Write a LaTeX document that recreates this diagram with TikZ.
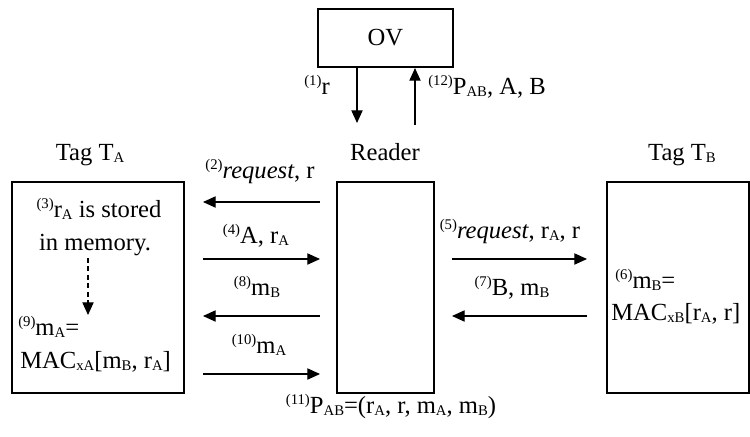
\documentclass[tikz,border=0pt]{standalone}
\usepackage{fontspec}
\setmainfont{Liberation Serif}
\usetikzlibrary{arrows.meta,positioning}
\newcommand{\lo}[1]{\raisebox{-2pt}{\fontsize{10.5}{11}\selectfont #1}}
\newcommand{\hi}[1]{\raisebox{6pt}{\fontsize{10.5}{11}\selectfont #1}}

\begin{document}
\begin{tikzpicture}[x=0.025cm, y=-0.025cm, every node/.style={font=\fontsize{17.5}{21}\selectfont}]
		% Styles
		\tikzset{
			entity/.style={draw=black, line width=1.5pt, inner sep=0pt},
			msg/.style={line width=0.8pt, -{Triangle[length=9pt, width=8pt]}},
			lbl/.style={anchor=base, inner sep=0pt},
		}
		\useasboundingbox (0,0) rectangle (750,436);
		
		% ===== BOXES =====
		\node[entity, minimum width=3.375cm, minimum height=1.45cm] (ov) at (385.5,38) {OV};
		\node[entity, minimum width=2.425cm, minimum height=5.275cm] (reader) at (385.5,287.5) {};
		\node[entity, minimum width=4.3cm, minimum height=5.275cm] (tagA) at (98,287.5) {};
		\node[entity, minimum width=3.55cm, minimum height=5.275cm] (tagB) at (678,287.5) {};
		
		% Titles
		\node[lbl] (tagAname) at (90,160) {Tag T\lo{A}};
		\node[lbl] (readername) at (385,160) {Reader};
		\node[lbl] (tagBname) at (682,160) {Tag T\lo{B}};
		
		% ===== OV <-> READER =====
		\coordinate (ovin) at (357,123);
		\coordinate (ovout) at (415,125);
		\draw[msg] (ov.south -| ovin) -- (ovin);
		\draw[msg] (ovout) -- (ovout |- ov.south);
		\node[lbl, anchor=base east] (m1) at (330,94) {\hi{(1)}r};
		\node[lbl, anchor=base west] (m12) at (428,94) {\hi{(12)}P\lo{AB}, A, B};
		
		% ===== TAG A <-> READER =====
		\coordinate (ra2) at (320,202);
		\coordinate (ta2) at (203,202);
		\coordinate (ta4) at (203,259);
		\coordinate (ra4) at (320,259);
		\coordinate (ra8) at (320,316);
		\coordinate (ta8) at (203,316);
		\coordinate (ta10) at (203,374);
		\coordinate (ra10) at (320,374);
		\draw[msg] (ra2) -- (ta2);
		\draw[msg] (ta4) -- (ra4);
		\draw[msg] (ra8) -- (ta8);
		\draw[msg] (ta10) -- (ra10);
		\node[lbl] (m2) at (260,178) {\hi{(2)}\textit{request}, r};
		\node[lbl] (m4) at (256,243) {\hi{(4)}A, r\lo{A}};
		\node[lbl] (m8) at (257,295) {\hi{(8)}m\lo{B}};
		\node[lbl] (m10) at (259,353) {\hi{(10)}m\lo{A}};
		
		% Inside tag A
		\node[lbl] (m3a) at (99,217) {\hi{(3)}r\lo{A} is stored};
		\node[lbl] (m3b) at (95,250) {in memory.};
		\coordinate (dtop) at (88,258);
		\coordinate (dbot) at (88,315);
		\draw[msg, dash pattern=on 3.5pt off 2.5pt] (dtop) -- (dbot);
		\node[lbl, anchor=base west] (m9a) at (18,335) {\hi{(9)}m\lo{A}=};
		\node[lbl, anchor=base west] (m9b) at (20,368) {MAC\lo{xA}[m\lo{B}, r\lo{A}]};
		
		% ===== READER <-> TAG B =====
		\coordinate (rb5) at (452,259);
		\coordinate (tb5) at (587,259);
		\coordinate (tb7) at (587,316);
		\coordinate (rb7) at (452,316);
		\draw[msg] (rb5) -- (tb5);
		\draw[msg] (tb7) -- (rb7);
		\node[lbl] (m5) at (510,238) {\hi{(5)}\textit{request}, r\lo{A}, r};
		\node[lbl] (m7) at (512,295) {\hi{(7)}B, m\lo{B}};
		
		% Inside tag B
		\node[lbl, anchor=base west] (m6a) at (615,288) {\hi{(6)}m\lo{B}=};
		\node[lbl, anchor=base west] (m6b) at (611,320) {MAC\lo{xB}[r\lo{A}, r]};
		
		% Bottom
		\node[lbl] (m11) at (391,413) {\hi{(11)}P\lo{AB}=(r\lo{A}, r, m\lo{A}, m\lo{B})};
		
	\end{tikzpicture}
\end{document}
